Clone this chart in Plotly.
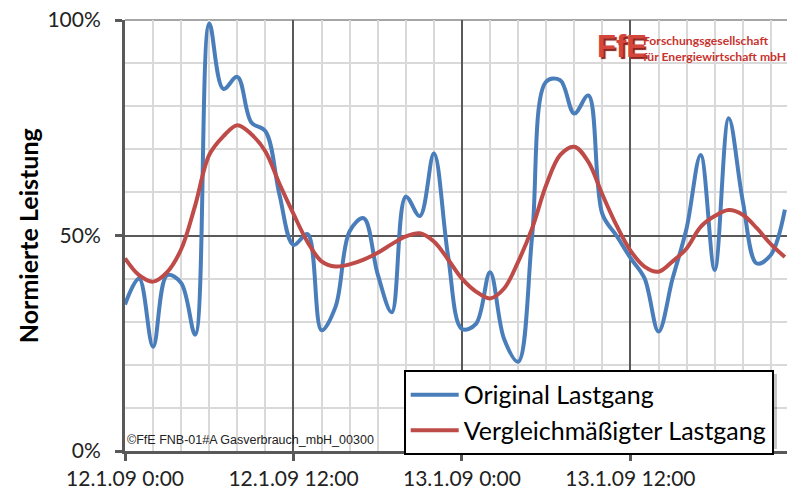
import plotly.graph_objects as go

# hours since 12.1.09 0:00
hours = list(range(48))
original = [34, 40, 24.2, 40.8, 39, 27, 99.2, 84, 86.8, 76.2, 74.2, 59.5,
            47.8, 50.3, 28, 33.5, 51, 54, 41, 32.2, 59, 54.5, 69, 45.5,
            28.3, 29.5, 41.5, 26, 20.7, 50, 85.7, 86, 78.3, 82.5, 55, 50,
            44.8, 40.1, 27.7, 40, 51.7, 68.7, 42, 77.2, 58, 43.5, 45.5, 56]
smoothed = [44.7, 40.8, 39.3, 41.5, 46.8, 57, 68.7, 73, 75.6, 73.5, 69.5, 62,
            55, 48.5, 44, 42.8, 43.3, 44.4, 46, 48, 49.8, 50.5, 48.6, 44.5,
            40, 37, 35.4, 37.7, 43.9, 51.7, 61.7, 68.7, 70.6, 67.1, 59.5, 52.4,
            46.5, 42.8, 41.6, 44, 47, 52, 54.5, 55.9, 54.8, 51.7, 48, 45]

x_tick_vals = [0, 12, 24, 36]
x_tick_text = ["12.1.09 0:00", "12.1.09 12:00", "13.1.09 0:00", "13.1.09 12:00"]
y_tick_vals = [0, 50, 100]
y_tick_text = ["0%", "50%", "100%"]
series_names = ["Original Lastgang", "Vergleichmäßigter Lastgang"]

FONT = "Lato, Calibri, Carlito, 'Open Sans', sans-serif"
BLUE = "#4a7ebb"
RED = "#be4b48"
MAJOR = "#595959"
MINOR = "#d9d9d9"
LOGO = "#c8342f"

fig = go.Figure()
fig.add_trace(go.Scatter(x=hours, y=original, mode="lines", name=series_names[0],
                         legendgroup="a",
                         line=dict(color=BLUE, width=4, shape="spline", smoothing=1.0)))
fig.add_trace(go.Scatter(x=hours, y=smoothed, mode="lines", name=series_names[1],
                         legendgroup="b",
                         line=dict(color=RED, width=4, shape="spline", smoothing=1.0)))

fig.update_layout(
    width=787, height=495,
    margin=dict(l=125, r=0, t=20, b=44),
    paper_bgcolor="white", plot_bgcolor="white",
    font=dict(family=FONT, size=21, color="#222222"),
    showlegend=True,
    legend=dict(x=0.421, y=0.188, xanchor="left", yanchor="top",
                bgcolor="white", bordercolor="black", borderwidth=2,
                font=dict(family=FONT, size=25, color="black"),
                tracegroupgap=0, traceorder="grouped", itemwidth=48),
)

fig.update_xaxes(
    range=[0, 47.15], tickmode="array", tickvals=x_tick_vals, ticktext=x_tick_text,
    showgrid=True, gridcolor=MAJOR, gridwidth=2,
    showline=True, linecolor=MAJOR, linewidth=3,
    ticks="outside", ticklen=7, tickwidth=3, tickcolor=MAJOR,
    zeroline=False,
    minor=dict(dtick=2, tick0=0, showgrid=True, gridcolor=MINOR, gridwidth=2, ticks=""),
    tickfont=dict(family=FONT, size=21, color="#222222"),
)
fig.update_yaxes(
    range=[0, 100], tickmode="array", tickvals=y_tick_vals, ticktext=y_tick_text,
    showgrid=True, gridcolor=MAJOR, gridwidth=2,
    showline=True, linecolor=MAJOR, linewidth=3,
    ticks="outside", ticklen=7, tickwidth=3, tickcolor=MAJOR,
    ticklabelstandoff=10,
    zeroline=False,
    minor=dict(dtick=10, tick0=0, showgrid=True, gridcolor=MINOR, gridwidth=2, ticks=""),
    tickfont=dict(family=FONT, size=21, color="#222222"),
)

# top border of plot area
fig.add_shape(type="line", xref="paper", yref="paper", x0=0, x1=1, y0=1, y1=1,
              line=dict(color="#a6a6a6", width=2), layer="between")

# soft shadow behind the legend box
fig.add_shape(type="rect", xref="paper", yref="paper",
              x0=(410 - 125) / 662, x1=(777 - 125) / 662,
              y0=(451 - 449) / 431, y1=(451 - 374) / 431,
              line=dict(width=0), fillcolor="rgba(0,0,0,0.22)", layer="above")

# y-axis title
fig.add_annotation(text="<b>Normierte Leistung</b>", xref="paper", yref="paper",
                   x=-0.147, y=0.5, xanchor="center", yanchor="middle",
                   textangle=-90, showarrow=False,
                   font=dict(family=FONT, size=25, color="black"))

# copyright note
fig.add_annotation(text="©FfE FNB-01#A Gasverbrauch_mbH_00300", xref="paper", yref="paper",
                   x=0, y=0.025, xanchor="left", yanchor="middle", showarrow=False,
                   font=dict(family="Liberation Sans, Arial, sans-serif", size=12.5, color="#222222"))

# logo
fig.add_annotation(text="<b>FfE</b>", xref="paper", yref="paper",
                   x=(595 - 125) / 662, y=(451 - 47) / 431, xanchor="left", yanchor="middle",
                   showarrow=False,
                   font=dict(family="'Liberation Sans', Arial, sans-serif",
                             size=31, color="#d4453c", shadow="2px 2px 1px #8a2420"))
fig.add_annotation(text="<b>Forschungsgesellschaft<br>für Energiewirtschaft mbH</b>", xref="paper", yref="paper",
                   x=(641 - 125) / 662, y=(451 - 48) / 431, xanchor="left", yanchor="middle",
                   align="left", showarrow=False,
                   font=dict(family="Lato, sans-serif", size=12.2, color=LOGO))

post = ("document.body.style.margin='0';"
        "var gd=document.getElementById('{plot_id}');"
        "document.fonts.ready.then(function(){"
        "Plotly.newPlot(gd, gd.data, gd.layout, {displayModeBar:false});});")

fig.write_html("out.html", config={"displayModeBar": False}, post_script=post)
